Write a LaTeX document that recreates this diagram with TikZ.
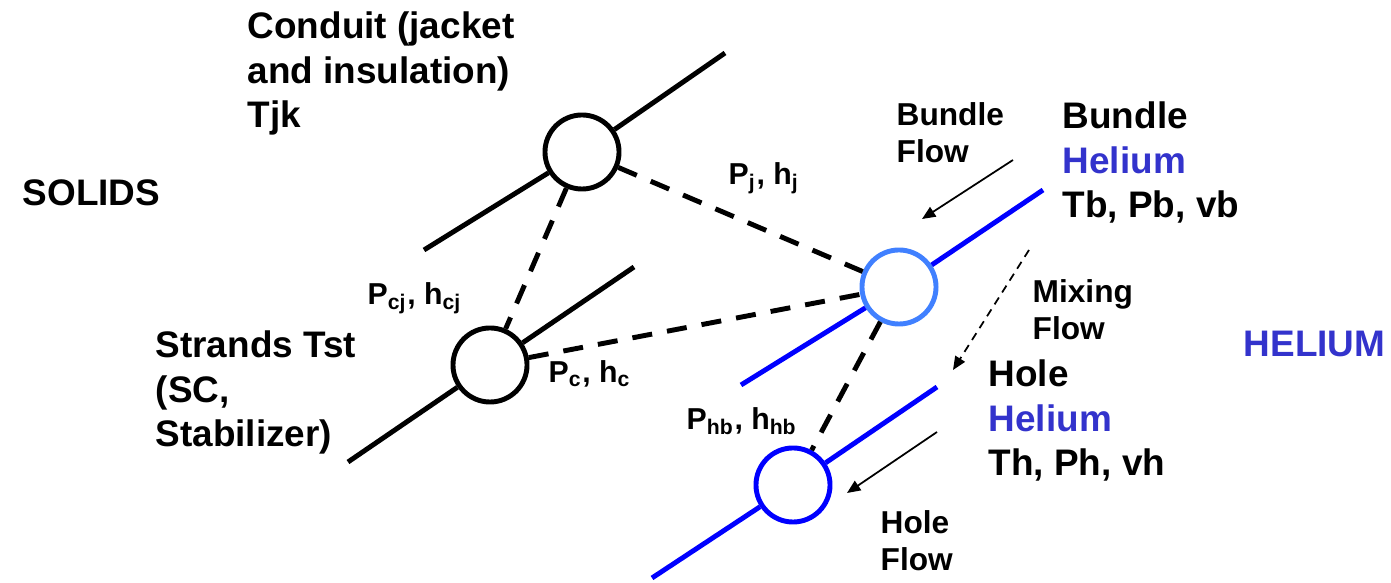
\documentclass[tikz,border=0pt]{standalone}
\usepackage{fontspec}
\setmainfont{Liberation Sans}
\usetikzlibrary{arrows.meta}
\definecolor{heblue}{RGB}{51,51,204}
\definecolor{lightblue}{RGB}{64,128,255}
\definecolor{pureblue}{RGB}{0,0,255}
\tikzset{
  big/.style={font=\bfseries\fontsize{10.5}{12.7}\selectfont,anchor=base west,inner sep=0pt,align=left},
  small/.style={font=\bfseries\fontsize{9}{10.8}\selectfont,anchor=base west,inner sep=0pt,align=left},
  plabel/.style={font=\bfseries\fontsize{8.6}{10}\selectfont,anchor=base west,inner sep=0pt},
  cell/.style={circle,draw,line width=1.4pt,fill=white,minimum size=0.74cm,inner sep=0pt},
  rail/.style={line width=1.4pt},
  link/.style={line width=1.4pt,dash pattern=on 5.7pt off 4.3pt},
  flow/.style={line width=0.5pt,-{Triangle[length=3.8pt,width=3.2pt]}}
}
\begin{document}
\begin{tikzpicture}[x=0.01cm,y=-0.01cm]
\useasboundingbox (0,0) rectangle (1391,583);
% freie Enden der Leitungen
\coordinate (cond-a) at (424,250);
\coordinate (cond-b) at (725,53);
\coordinate (str-a) at (348,462);
\coordinate (str-b) at (634,267);
\coordinate (bund-a) at (741,385);
\coordinate (bund-b) at (1043,190);
\coordinate (hole-a) at (652,578);
\coordinate (hole-b) at (937,387);
% Knoten (Kreise)
\node[cell] (cond) at (582,152) {};
\node[cell] (str) at (490,365) {};
\node[cell,draw=lightblue] (bund) at (899,287) {};
\node[cell,draw=pureblue] (hole) at (793,485) {};
% Leitungen durch die Knoten
\draw[rail] (cond-a) -- (cond) -- (cond-b);
\draw[rail] (str-a) -- (str) -- (str-b);
\draw[rail,pureblue] (bund-a) -- (bund) -- (bund-b);
\draw[rail,pureblue] (hole-a) -- (hole) -- (hole-b);
% Kopplungen (gestrichelt)
\foreach \a/\b in {cond/str,cond/bund,str/bund,bund/hole}
  \draw[link] (\a) -- (\b);
% Kopplungslabels
\node[plabel] (pj) at (728,185) {P\textsubscript{j}, h\textsubscript{j}};
\node[plabel] (pcj) at (367,305) {P\textsubscript{cj}, h\textsubscript{cj}};
\node[plabel] (pc) at (548,383) {P\textsubscript{c}, h\textsubscript{c}};
\node[plabel] (phb) at (686,430) {P\textsubscript{hb}, h\textsubscript{hb}};
% Beschriftungen (Basislinie der letzten Zeile)
\node[big] (condlbl) at (247,128) {Conduit (jacket\\and insulation)\\Tjk};
\node[big] (solids) at (22,206) {SOLIDS};
\node[big] (strlbl) at (155,447) {Strands Tst\\(SC,\\Stabilizer)};
\node[big] (bundlbl) at (1062,218) {Bundle\\\textcolor{heblue}{Helium}\\Tb, Pb, vb};
\node[big] (holelbl) at (988,476) {Hole\\\textcolor{heblue}{Helium}\\Th, Ph, vh};
\node[big,text=heblue] (helium) at (1243,357) {HELIUM};
% Stroemungen
\node[small] (bflow) at (896,163) {Bundle\\Flow};
\node[small] (mflow) at (1032,340) {Mixing\\Flow};
\node[small] (hflow) at (880,571) {Hole\\Flow};
\coordinate (bf-s) at (1013,160);
\coordinate (bf-e) at (922,219);
\coordinate (mf-s) at (1029,250);
\coordinate (mf-e) at (953,370);
\coordinate (hf-s) at (937,432);
\coordinate (hf-e) at (847,493);
\draw[flow] (bf-s) -- (bf-e);
\draw[flow,dash pattern=on 2.3pt off 1.7pt] (mf-s) -- (mf-e);
\draw[flow] (hf-s) -- (hf-e);
\end{tikzpicture}
\end{document}
